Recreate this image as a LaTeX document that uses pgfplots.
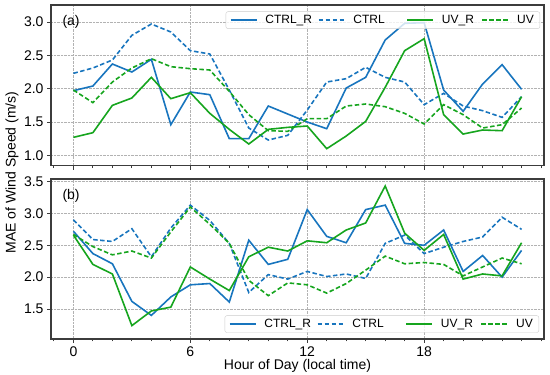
\documentclass[border=0pt]{standalone}
\usepackage{pgfplots}
\pgfplotsset{compat=1.18}
\usepackage{pgfplotstable}
\usepackage{fontspec}
\setmainfont{Liberation Sans}
\definecolor{cblue}{RGB}{24,117,190}
\definecolor{cgreen}{RGB}{22,165,30}
\definecolor{spine}{RGB}{60,60,60}
\newcommand\lf{\fontsize{12bp}{14bp}\selectfont}
\newcommand\lgent[2]{\lf\makebox[#1][l]{#2}}

\pgfplotstableread{
h ctrlr ctrl uvr uv
0 1.97 2.23 1.27 1.98
1 2.04 2.31 1.34 1.79
2 2.37 2.43 1.75 2.10
3 2.25 2.80 1.86 2.31
4 2.44 2.97 2.17 2.45
5 1.46 2.85 1.85 2.33
6 1.95 2.57 1.94 2.30
7 1.91 2.52 1.63 2.28
8 1.25 1.98 1.39 1.96
9 1.25 1.41 1.17 1.61
10 1.74 1.23 1.39 1.37
11 1.62 1.30 1.42 1.36
12 1.50 1.68 1.44 1.55
13 1.40 2.10 1.10 1.55
14 2.01 2.15 1.29 1.74
15 2.17 2.32 1.51 1.77
16 2.73 2.17 2.02 1.73
17 2.98 2.10 2.57 1.63
18 2.99 1.76 2.75 1.47
19 1.98 1.93 1.61 1.76
20 1.66 1.74 1.32 1.61
21 2.07 1.67 1.38 1.41
22 2.36 1.57 1.37 1.46
23 1.99 1.88 1.88 1.71
}\tabA

\pgfplotstableread{
h ctrlr ctrl uvr uv
0 2.72 2.90 2.66 2.67
1 2.37 2.59 2.20 2.48
2 2.21 2.56 2.05 2.35
3 1.62 2.76 1.24 2.41
4 1.40 2.32 1.47 2.30
5 1.69 2.77 1.53 2.71
6 1.88 3.13 2.16 3.10
7 1.90 2.89 1.97 2.83
8 1.61 2.53 1.79 2.53
9 2.58 1.76 2.32 1.95
10 2.20 2.04 2.47 1.71
11 2.28 1.97 2.41 1.91
12 3.06 2.09 2.57 1.88
13 2.64 2.01 2.54 1.75
14 2.54 2.05 2.74 1.90
15 3.06 1.98 2.85 2.11
16 3.13 2.53 3.43 2.33
17 2.53 2.66 2.69 2.21
18 2.50 2.37 2.42 2.23
19 2.74 2.47 2.67 2.20
20 2.09 2.56 1.97 2.02
21 2.34 2.63 2.05 2.16
22 2.00 2.94 2.02 2.30
23 2.42 2.75 2.54 2.21
}\tabB

\pgfplotsset{
  common/.style={
    scale only axis,
    width=493bp,
    xmin=-1.15, xmax=24.15,
    xtick={0,6,12,18},
    minor xtick={-1,0,...,24},
    xtick pos=left, ytick pos=left,
    tick align=outside,
    major tick length=4bp,
    minor tick length=2.5bp,
    every tick/.style={spine, line width=0.9bp},
    axis line style={spine, line width=1.1bp},
    grid=major,
    major grid style={densely dotted, black!30, line width=0.6bp},
    /pgf/number format/assume math mode=true,
    yticklabel style={/pgf/number format/.cd, fixed, fixed zerofill, precision=1},
    ticklabel style={font=\fontsize{14bp}{16bp}\selectfont},
    legend columns=4,
    legend cell align=left,
    legend image code/.code={\draw[##1] (0bp,0bp) -- (26bp,0bp);},
    legend style={draw=black!20, rounded corners=2bp, fill=white, fill opacity=0.8,
      draw opacity=1, text opacity=1, font=\lf,
      inner xsep=4bp, inner ysep=1.5bp,
      /tikz/every odd column/.append style={column sep=5.9bp},
      /tikz/every even column/.append style={column sep=0bp}},
  },
  ctrlr/.style={cblue, line width=1.6bp},
  ctrl/.style={cblue, line width=1.6bp, dash pattern=on 4.5bp off 2.5bp},
  uvr/.style={cgreen, line width=1.6bp},
  uv/.style={cgreen, line width=1.6bp, dash pattern=on 4.5bp off 2.5bp},
}

\begin{document}
\begin{tikzpicture}[font=\fontsize{14bp}{16bp}\selectfont]
\path[use as bounding box] (0,0) rectangle (550bp,375bp);

\begin{axis}[common,
  at={(51bp,209.3bp)}, anchor=south west, height=160.7bp,
  ymin=0.845, ymax=3.255,
  ytick={1.0,1.5,2.0,2.5,3.0},
  xticklabels={},
  legend style={at={(1,1)}, anchor=north east, xshift=-4bp, yshift=-6.5bp},
]
\addplot[ctrlr] table[x=h, y=ctrlr] {\tabA};
\addplot[ctrl] table[x=h, y=ctrl] {\tabA};
\addplot[uvr] table[x=h, y=uvr] {\tabA};
\addplot[uv] table[x=h, y=uv] {\tabA};
\legend{\lgent{50.5bp}{CTRL\_R}, \lgent{51.1bp}{CTRL}, \lgent{37.7bp}{UV\_R}, \lf UV}
\node[anchor=west] at (rel axis cs:0,1) [xshift=8bp, yshift=-17bp] {(a)};
\end{axis}

\begin{axis}[common,
  at={(51bp,36bp)}, anchor=south west, height=160bp,
  ymin=1.03, ymax=3.54,
  ytick={1.5,2.0,2.5,3.0,3.5},
  legend style={at={(1,0)}, anchor=south east, xshift=-5bp, yshift=6.3bp},
]
\addplot[ctrlr] table[x=h, y=ctrlr] {\tabB};
\addplot[ctrl] table[x=h, y=ctrl] {\tabB};
\addplot[uvr] table[x=h, y=uvr] {\tabB};
\addplot[uv] table[x=h, y=uv] {\tabB};
\legend{\lgent{50.5bp}{CTRL\_R}, \lgent{51.1bp}{CTRL}, \lgent{37.7bp}{UV\_R}, \lf UV}
\node[anchor=west] at (rel axis cs:0,1) [xshift=8bp, yshift=-17bp] {(b)};
\end{axis}

\node[rotate=90] at (12bp,202.5bp) {MAE of Wind Speed (m/s)};
\node[anchor=base] at (297.5bp,6bp) {Hour of Day (local time)};
\end{tikzpicture}
\end{document}
